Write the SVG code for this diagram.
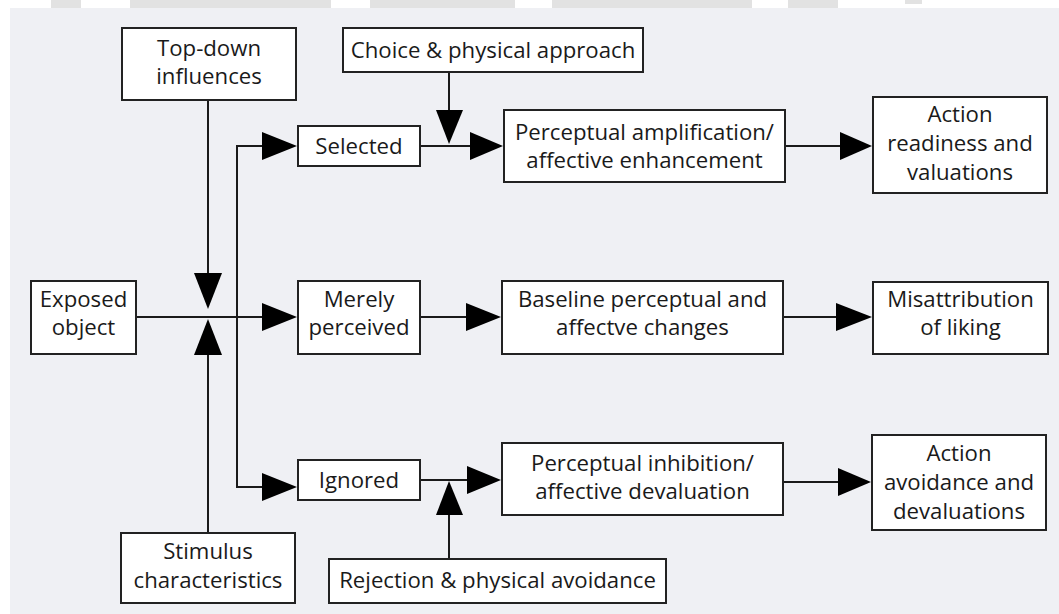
<svg xmlns="http://www.w3.org/2000/svg" width="1059" height="614" viewBox="0 0 1059 614">
<style>
.box{fill:#ffffff;stroke:#222;stroke-width:2}
.t{font-family:"Open Sans","Liberation Sans",sans-serif;font-size:22.2px;fill:#1a1a1a;text-anchor:middle}
.ln{stroke:#1a1a1a;stroke-width:2;fill:none}
.hd{fill:#000}
</style>
<rect x="0" y="0" width="1059" height="614" fill="#ffffff"/>
<g id="watermark" fill="#e2e2e2">
<rect x="51" y="0" width="30" height="8"/>
<rect x="130" y="0" width="201" height="8"/>
<rect x="370" y="0" width="145" height="8"/>
<rect x="552" y="0" width="200" height="8"/>
<rect x="788" y="0" width="50" height="8"/>
<rect x="905" y="0" width="17" height="4"/>
</g>
<rect x="10" y="8" width="1049" height="606" fill="#eff0f4"/>

<g id="connectors">
<line class="ln" x1="208" y1="100" x2="208" y2="275"/>
<polygon class="hd" points="194,273 222,273 208,309"/>
<line class="ln" x1="208" y1="533" x2="208" y2="353"/>
<polygon class="hd" points="194,355 222,355 208,319"/>
<line class="ln" x1="136" y1="317" x2="264" y2="317"/>
<polygon class="hd" points="262,303 262,331 297,317"/>
<polyline class="ln" points="264,146 237,146 237,487 264,487"/>
<polygon class="hd" points="262,132 262,160 297,146"/>
<polygon class="hd" points="262,473 262,501 297,487"/>
<line class="ln" x1="420" y1="146" x2="472" y2="146"/>
<polygon class="hd" points="470,132 470,160 503,146"/>
<line class="ln" x1="449" y1="72" x2="449" y2="112"/>
<polygon class="hd" points="436,110 463,110 449,144"/>
<line class="ln" x1="785" y1="146" x2="842" y2="146"/>
<polygon class="hd" points="840,132 840,160 872,146"/>
<line class="ln" x1="420" y1="317" x2="468" y2="317"/>
<polygon class="hd" points="466,303 466,331 501,317"/>
<line class="ln" x1="783" y1="317" x2="838" y2="317"/>
<polygon class="hd" points="836,303 836,331 872,317"/>
<line class="ln" x1="420" y1="480" x2="469" y2="480"/>
<polygon class="hd" points="467,466 467,494 501,480"/>
<line class="ln" x1="449" y1="559" x2="449" y2="513"/>
<polygon class="hd" points="436,515 463,515 449,481"/>
<line class="ln" x1="783" y1="482" x2="840" y2="482"/>
<polygon class="hd" points="838,468 838,496 871,482"/>
</g>

<g id="topdown"><rect class="box" x="122" y="28" width="174" height="72"/>
<text class="t" x="209" y="56">Top-down</text><text class="t" x="209" y="84">influences</text></g>
<g id="choice"><rect class="box" x="343" y="28" width="300" height="44"/>
<text class="t" x="493" y="58">Choice &amp; physical approach</text></g>
<g id="selected"><rect class="box" x="298" y="126" width="122" height="40"/>
<text class="t" x="359" y="154">Selected</text></g>
<g id="amplification"><rect class="box" x="504" y="110" width="281" height="72"/>
<text class="t" x="644.5" y="140">Perceptual amplification/</text><text class="t" x="644.5" y="168">affective enhancement</text></g>
<g id="readiness"><rect class="box" x="873" y="97" width="174" height="96"/>
<text class="t" x="960" y="122">Action</text><text class="t" x="960" y="151">readiness and</text><text class="t" x="960" y="180">valuations</text></g>
<g id="exposed"><rect class="box" x="31" y="281" width="105" height="73"/>
<text class="t" x="83.5" y="307">Exposed</text><text class="t" x="83.5" y="335">object</text></g>
<g id="merely"><rect class="box" x="298" y="281" width="122" height="73"/>
<text class="t" x="359" y="307">Merely</text><text class="t" x="359" y="335">perceived</text></g>
<g id="baseline"><rect class="box" x="502" y="281" width="281" height="73"/>
<text class="t" x="642.5" y="307">Baseline perceptual and</text><text class="t" x="642.5" y="335">affectve changes</text></g>
<g id="misattribution"><rect class="box" x="873" y="282" width="175" height="72"/>
<text class="t" x="960.5" y="307">Misattribution</text><text class="t" x="960.5" y="335">of liking</text></g>
<g id="ignored"><rect class="box" x="298" y="460" width="122" height="40"/>
<text class="t" x="359" y="488">Ignored</text></g>
<g id="inhibition"><rect class="box" x="502" y="443" width="281" height="72"/>
<text class="t" x="642.5" y="471">Perceptual inhibition/</text><text class="t" x="642.5" y="499">affective devaluation</text></g>
<g id="avoidance"><rect class="box" x="872" y="435" width="174" height="95"/>
<text class="t" x="959" y="461">Action</text><text class="t" x="959" y="490">avoidance and</text><text class="t" x="959" y="519">devaluations</text></g>
<g id="stimulus"><rect class="box" x="121" y="533" width="174" height="70"/>
<text class="t" x="208" y="559">Stimulus</text><text class="t" x="208" y="588">characteristics</text></g>
<g id="rejection"><rect class="box" x="329" y="559" width="337" height="44"/>
<text class="t" x="497.5" y="588">Rejection &amp; physical avoidance</text></g>
</svg>
